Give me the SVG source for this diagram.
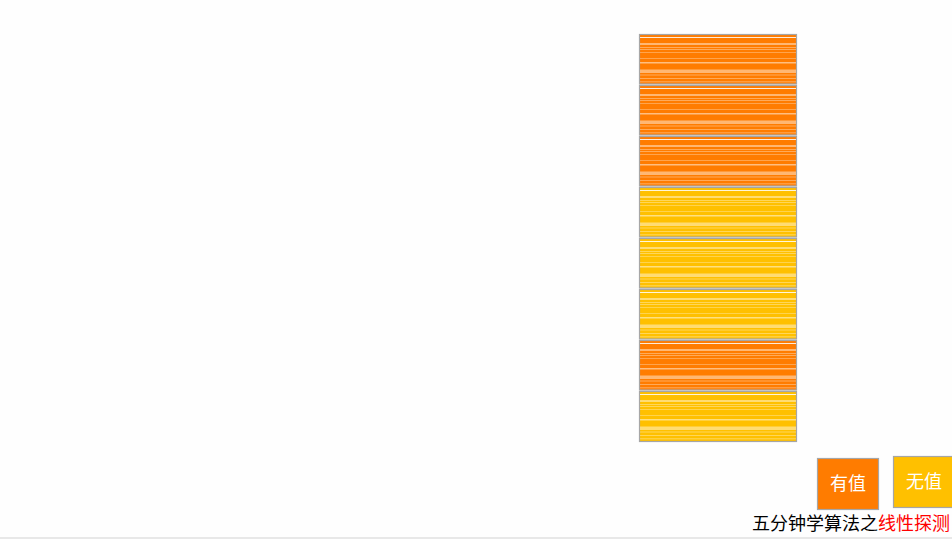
<svg xmlns="http://www.w3.org/2000/svg" width="952" height="539" viewBox="0 0 952 539">
<defs>
<style>
.cell{stroke:#a6a6a6;stroke-width:1.2}
.o{fill:#ff7c00}
.y{fill:#ffc000}
.lbl{font-family:"Liberation Sans","Noto Sans CJK SC",sans-serif;font-size:18px;fill:#ffffff;text-anchor:middle}
.cap{font-family:"Liberation Sans","Noto Sans CJK SC",sans-serif;font-size:18px;fill:#000000;text-anchor:end}
</style>
<pattern id="stripes" patternUnits="userSpaceOnUse" x="639" y="34" width="158" height="51">
<rect x="0" y="3" width="158" height="1" fill="#fff" fill-opacity="0.85"/>
<rect x="0" y="9.5" width="158" height="1" fill="#fff" fill-opacity="0.9"/>
<rect x="0" y="13" width="158" height="1" fill="#fff" fill-opacity="0.35"/>
<rect x="0" y="15" width="158" height="1" fill="#fff" fill-opacity="0.35"/>
<rect x="0" y="18" width="158" height="1" fill="#fff" fill-opacity="0.3"/>
<rect x="0" y="24" width="158" height="1" fill="#fff" fill-opacity="0.3"/>
<rect x="0" y="28" width="158" height="1.5" fill="#fff" fill-opacity="0.5"/>
<rect x="0" y="35.5" width="158" height="3.5" fill="#fff" fill-opacity="0.45"/>
<rect x="0" y="40.5" width="158" height="1" fill="#fff" fill-opacity="0.35"/>
<rect x="0" y="44" width="158" height="1" fill="#fff" fill-opacity="0.35"/>
<rect x="0" y="47.3" width="158" height="1" fill="#fff" fill-opacity="0.35"/>
</pattern>
</defs>
<rect x="0" y="0" width="952" height="539" fill="#fefefe"/>
<rect x="0" y="537" width="952" height="2" fill="#e8e8e8"/>
<g id="table">
<g id="slot0"><rect class="cell o" x="639.5" y="34.5" width="157" height="49.5"/><rect x="640" y="35" width="156" height="48.5" fill="url(#stripes)"/></g>
<g id="slot1"><rect class="cell o" x="639.5" y="85.5" width="157" height="49.5"/><rect x="640" y="86" width="156" height="48.5" fill="url(#stripes)"/></g>
<g id="slot2"><rect class="cell o" x="639.5" y="136.5" width="157" height="49.5"/><rect x="640" y="137" width="156" height="48.5" fill="url(#stripes)"/></g>
<g id="slot3"><rect class="cell y" x="639.5" y="187.5" width="157" height="49.5"/><rect x="640" y="188" width="156" height="48.5" fill="url(#stripes)"/></g>
<g id="slot4"><rect class="cell y" x="639.5" y="238.5" width="157" height="49.5"/><rect x="640" y="239" width="156" height="48.5" fill="url(#stripes)"/></g>
<g id="slot5"><rect class="cell y" x="639.5" y="289.5" width="157" height="49.5"/><rect x="640" y="290" width="156" height="48.5" fill="url(#stripes)"/></g>
<g id="slot6"><rect class="cell o" x="639.5" y="340.5" width="157" height="49.5"/><rect x="640" y="341" width="156" height="48.5" fill="url(#stripes)"/></g>
<g id="slot7"><rect class="cell y" x="639.5" y="391.5" width="157" height="50"/><rect x="640" y="392" width="156" height="49" fill="url(#stripes)"/></g>
</g>
<g id="connectors"></g>
<g id="legend-filled"><rect class="cell o" x="817.5" y="458.5" width="61" height="51"/><text class="lbl" x="848" y="490">有值</text></g>
<g id="legend-empty"><rect class="cell y" x="893.5" y="456.5" width="61" height="51"/><text class="lbl" x="924" y="488">无值</text></g>
<g id="caption"><text class="cap" x="950" y="530">五分钟学算法之<tspan fill="#ff0000">线性探测</tspan></text></g>
</svg>
